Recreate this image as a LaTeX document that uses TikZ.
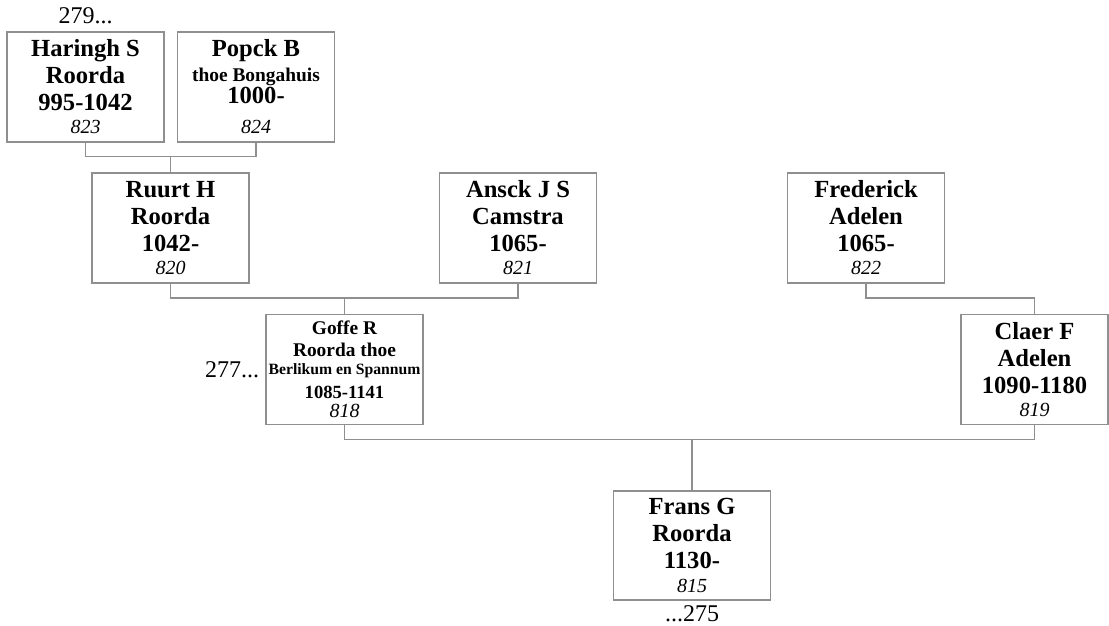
\documentclass[tikz,border=0pt]{standalone}
\usepackage{fontspec}
\setmainfont{Liberation Serif}
\usepackage{tikz}
\usetikzlibrary{positioning}

\definecolor{boxgray}{gray}{0.56}

\newcommand{\refno}[1]{{\mdseries\itshape\fontsize{20}{22}\selectfont #1}}
\newcommand{\subline}[1]{{\fontsize{19.4}{21}\selectfont #1}}
\newcommand{\placename}[1]{{\fontsize{15.7}{18}\selectfont #1}}

\begin{document}
\begin{tikzpicture}[
            x=1pt, y=-1pt,
            node distance=12pt,
            person/.style={rectangle, draw=boxgray, line width=1.5pt, fill=white, minimum width=157pt, minimum height=110pt, inner sep=0pt, align=center, font=\fontsize{24.6}{27}\selectfont\bfseries},
            link/.style={line width=1.5pt, draw=boxgray},
            more/.style={inner sep=0pt, font=\fontsize{24}{27}\selectfont}
        ]
        \useasboundingbox (0,0) rectangle (1109,626);
        
        % Top row
        \node[person] (haringh) at (85.5,87) {Haringh S\\Roorda\\995-1042\\[-4pt]\refno{823}};
        \node[person, right=12pt of haringh] (popck) {Popck B\\[-2pt]\subline{thoe Bongahuis}\\[-5pt]1000-\\[3pt]\refno{824}};
        
        % Second row
        \node[person] (ruurt) at (170.5,228) {Ruurt H\\Roorda\\1042-\\[-4pt]\refno{820}};
        \node[person] (ansck) at (518,228) {Ansck J S\\Camstra\\1065-\\[-4pt]\refno{821}};
        \node[person] (frederick) at (866,228) {Frederick\\Adelen\\1065-\\[-4pt]\refno{822}};
        
        % Parents of Frans
        \node[person] (goffe) at (344.5,369.5) {\subline{Goffe R}\\[-5pt]\subline{Roorda thoe}\\[-9pt]\placename{Berlikum en Spannum}\\[-3pt]{\fontsize{18.6}{21}\selectfont 1085-1141}\\[-8pt]\refno{818}};
        \node[person, minimum width=147pt] (claer) at (1034.5,369.5) {Claer F\\Adelen\\1090-1180\\[-4pt]\refno{819}};
        
        % Bottom
        \node[person, minimum height=109pt] (frans) at (692,545.5) {Frans G\\Roorda\\1130-\\[-3pt]\refno{815}};
        
        % Page references
        \node[more, above=7pt of haringh] (ref279) {279...};
        \node[more, left=6pt of goffe] (ref277) {277...};
        \node[more, below=5pt of frans] (ref275) {...275};
        
        % Family lines
        \coordinate (ruurtup) at ([yshift=16pt]ruurt.north);
        \draw[link] (haringh.south) |- (ruurtup) -| (popck.south);
        \draw[link] (ruurtup) -- (ruurt.north);
        
        \coordinate (goffeup) at ([yshift=16pt]goffe.north);
        \draw[link] (ruurt.south) |- (goffeup) -| (ansck.south);
        \draw[link] (goffeup) -- (goffe.north);
        
        \coordinate (claerup) at ([yshift=16pt]claer.north);
        \draw[link] (frederick.south) |- (claerup);
        \draw[link] (claerup) -- (claer.north);
        
        \coordinate (fransup) at ([yshift=51pt]frans.north);
        \draw[link] (goffe.south) |- (fransup) -| (claer.south);
        \draw[link] (fransup) -- (frans.north);
        
        \end{tikzpicture}
\end{document}
